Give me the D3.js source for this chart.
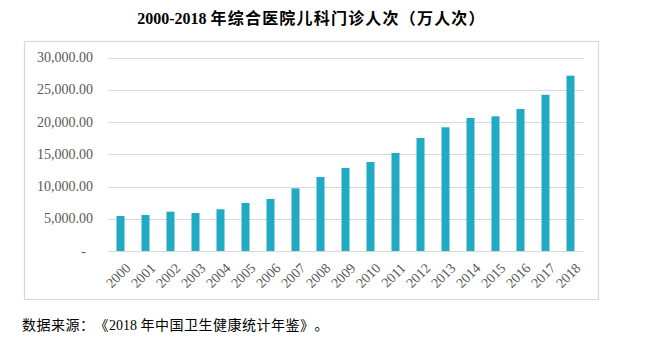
<!DOCTYPE html>
<html>
<head>
<meta charset="utf-8">
<script src="https://cdn.jsdelivr.net/npm/d3@7"></script>
<style>
  html, body { margin: 0; padding: 0; background: #fff; }
  svg { display: block; }
  text { text-spacing-trim: space-all; }
</style>
</head>
<body>
<script>
var width = 665, height = 345;

var years = ["2000", "2001", "2002", "2003", "2004", "2005", "2006", "2007", "2008", "2009",
  "2010", "2011", "2012", "2013", "2014", "2015", "2016", "2017", "2018"];
var visits = [5430, 5580, 6100, 5890, 6470, 7450, 8070, 9720, 11480, 12880,
  13800, 15200, 17520, 19180, 20620, 20880, 22020, 24220, 27180];
var yTicks = [0, 5000, 10000, 15000, 20000, 25000, 30000];

var titleLatin = "2000-2018 ";
var titleCjk = "年综合医院儿科门诊人次（万人次）";
var sourceParts = ["数据来源：《", "2018 ", "年中国卫生健康统计年鉴》。"];

var serif = "'Liberation Serif', 'Times New Roman', 'Noto Sans CJK SC', serif";

var svg = d3.select("body")
  .append("svg")
  .attr("width", width)
  .attr("height", height);

// outer frame
svg.append("rect")
  .attr("x", 24.5)
  .attr("y", 41.5)
  .attr("width", 574)
  .attr("height", 258)
  .attr("fill", "none")
  .attr("stroke", "#d9d9d9")
  .attr("stroke-width", 1.2);

var t = svg.append("text")
  .attr("x", 311.5)
  .attr("y", 24)
  .attr("text-anchor", "middle")
  .style("font-family", serif)
  .style("font-weight", "bold")
  .style("font-size", "16px")
  .attr("fill", "#000");
t.append("tspan").text(titleLatin);
t.append("tspan").style("letter-spacing", "1.2px").text(titleCjk);

var x = d3.scaleBand()
  .domain(years)
  .range([108, 583])
  .paddingInner(0.68)
  .paddingOuter(0.34);

var y = d3.scaleLinear()
  .domain([0, 30000])
  .range([251, 57.5]);

// gridlines
svg.append("g")
  .selectAll("line")
  .data(yTicks)
  .enter()
  .append("line")
  .attr("x1", 108)
  .attr("x2", 583)
  .attr("y1", function(d) { return Math.round(y(d)) + 0.5; })
  .attr("y2", function(d) { return Math.round(y(d)) + 0.5; })
  .attr("stroke", "#d9d9d9")
  .attr("stroke-width", 1.2);

// y labels
var fmt = d3.format(",.2f");
svg.append("g")
  .selectAll("text")
  .data(yTicks)
  .enter()
  .append("text")
  .attr("x", function(d) { return d === 0 ? 86 : 93; })
  .attr("y", function(d) { return y(d) + 4.5; })
  .attr("text-anchor", "end")
  .style("font-family", serif)
  .style("font-size", "14px")
  .attr("fill", "#595959")
  .text(function(d) { return d === 0 ? "-" : fmt(d); });

// bars
svg.append("g")
  .selectAll("rect")
  .data(visits)
  .enter()
  .append("rect")
  .attr("x", function(d, i) { return x(years[i]); })
  .attr("y", function(d) { return y(d); })
  .attr("width", x.bandwidth())
  .attr("height", function(d) { return y(0) - y(d); })
  .attr("fill", "#21aac4");

// x labels
svg.append("g")
  .selectAll("text")
  .data(years)
  .enter()
  .append("text")
  .attr("transform", function(d) {
    return "translate(" + (x(d) + x.bandwidth() / 2 + 4) + "," + 262 + ") rotate(-45)";
  })
  .attr("text-anchor", "end")
  .attr("dy", "0.7em")
  .style("font-family", serif)
  .style("font-size", "14px")
  .attr("fill", "#595959")
  .text(function(d) { return d; });

var s = svg.append("text")
  .attr("x", 22)
  .attr("y", 330)
  .style("font-family", serif)
  .style("font-size", "14px")
  .attr("fill", "#000");
s.append("tspan").style("letter-spacing", "0.5px").text(sourceParts[0]);
s.append("tspan").text(sourceParts[1]);
s.append("tspan").style("letter-spacing", "0.5px").text(sourceParts[2]);
</script>
</body>
</html>
